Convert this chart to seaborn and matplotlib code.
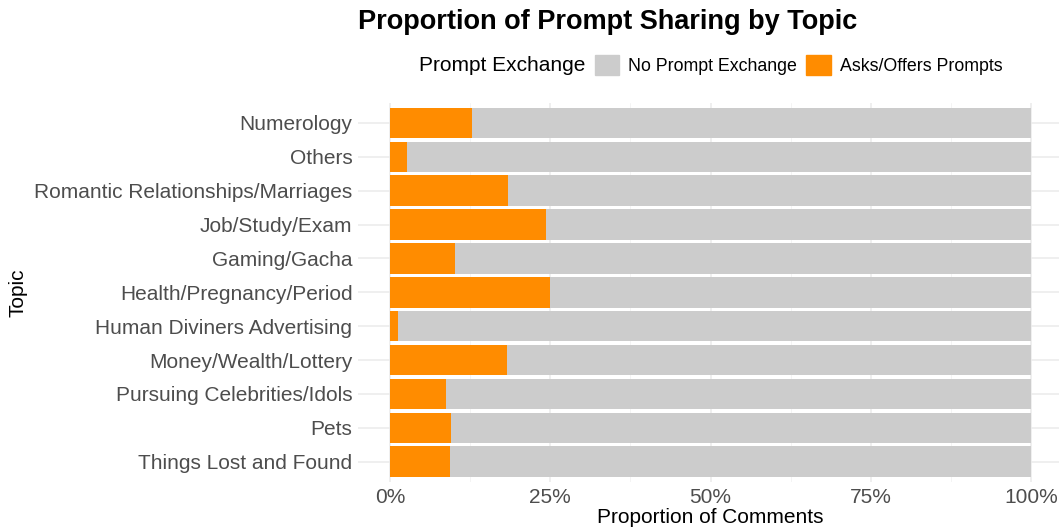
import matplotlib
matplotlib.use('Agg')
import matplotlib.pyplot as plt
import matplotlib.patches as mpatches
from matplotlib.ticker import PercentFormatter
import seaborn as sns
import pandas as pd

topics = ['Numerology', 'Others', 'Romantic Relationships/Marriages', 'Job/Study/Exam',
          'Gaming/Gacha', 'Health/Pregnancy/Period', 'Human Diviners Advertising',
          'Money/Wealth/Lottery', 'Pursuing Celebrities/Idols', 'Pets', 'Things Lost and Found']
asks_prompts = [0.128, 0.026, 0.184, 0.244, 0.101, 0.249, 0.012, 0.182, 0.087, 0.095, 0.093]
no_exchange = [0.872, 0.974, 0.816, 0.756, 0.899, 0.751, 0.988, 0.818, 0.913, 0.905, 0.907]

GRAY = '#CCCCCC'
ORANGE = '#FF8C00'
TICK_COLOR = '#4D4D4D'

df = pd.DataFrame({'Topic': topics, 'asks': asks_prompts, 'none': no_exchange})
df['total'] = df['asks'] + df['none']

sns.set_theme(style='whitegrid')
plt.rcParams['font.family'] = ['Liberation Sans', 'DejaVu Sans']
plt.rcParams['text.color'] = 'black'
plt.rcParams['axes.labelcolor'] = 'black'

fig = plt.figure(figsize=(10.59, 5.31), dpi=100)
ax = fig.add_axes([358 / 1059, 1 - 482 / 531, (1063 - 358) / 1059, (482 - 102.6) / 531])

sns.barplot(data=df, y='Topic', x='total', color=GRAY, width=0.9, orient='h',
            saturation=1, linewidth=0, ax=ax, zorder=2)
sns.barplot(data=df, y='Topic', x='asks', color=ORANGE, width=0.9, orient='h',
            saturation=1, linewidth=0, ax=ax, zorder=3)

ax.set_xlim(-0.05, 1.05)
ax.set_ylim(len(topics) - 0.4, -0.6)
ax.set_xticks([0, 0.25, 0.5, 0.75, 1.0])
ax.set_xticks([0.125, 0.375, 0.625, 0.875], minor=True)
ax.xaxis.set_major_formatter(PercentFormatter(1.0, decimals=0))

for s in ax.spines.values():
    s.set_visible(False)
ax.grid(True, which='major', color='#EBEBEB', linewidth=1.1, zorder=0)
ax.grid(True, which='minor', axis='x', color='#F2F2F2', linewidth=0.6, zorder=0)
ax.set_axisbelow(True)
ax.tick_params(axis='both', which='both', length=0, labelsize=15, colors=TICK_COLOR, pad=4)

ax.set_xlabel('Proportion of Comments', fontsize=15, color='black', labelpad=1)
ax.set_ylabel('Topic', fontsize=15, color='black')
ax.yaxis.set_label_coords((28 - 358) / 705, 0.5)

fig.text(608 / 1059, 1 - 22 / 531, 'Proportion of Prompt Sharing by Topic',
         ha='center', va='center', fontsize=19.5, fontweight='bold', color='black')

handles = [mpatches.Patch(color='none'),
           mpatches.Patch(color=GRAY), mpatches.Patch(color=ORANGE)]
labels = ['Prompt Exchange', 'No Prompt Exchange', 'Asks/Offers Prompts']
leg = fig.legend(handles, labels, ncol=3, loc='center', bbox_to_anchor=(694 / 1059, 1 - 65 / 531),
                 frameon=False, fontsize=12.8, handlelength=1.4, handleheight=1.4,
                 handletextpad=0.5, columnspacing=0.5)
txt = leg.get_texts()[0]
txt.set_fontsize(15)
leg.legend_handles[0].set_visible(False)

fig.savefig('out.png', dpi=100)
